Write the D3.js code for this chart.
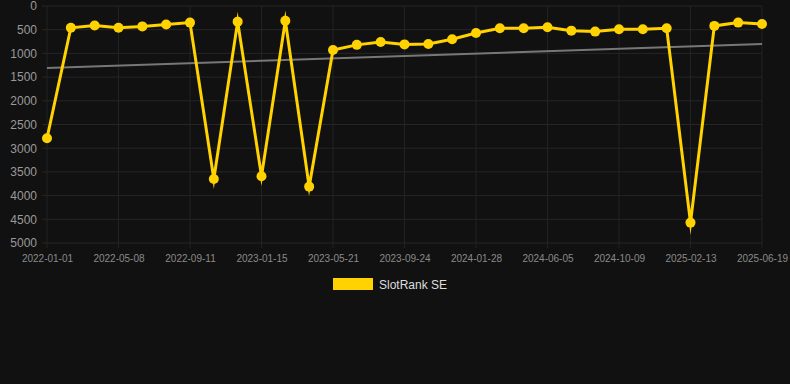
<!DOCTYPE html>
<html><head><meta charset="utf-8">
<script src="https://cdn.jsdelivr.net/npm/d3@7"></script>
<style>
html,body{margin:0;padding:0;background:#111111;}
svg{display:block;font-family:"Liberation Sans",Arial,sans-serif;}
</style></head>
<body>
<svg id="chart" width="790" height="384"></svg>
<script>
const dates = ["2022-01-01","2022-02-12","2022-03-26","2022-05-08","2022-06-19","2022-07-31","2022-09-11","2022-10-23","2022-12-04","2023-01-15","2023-02-26","2023-04-09","2023-05-21","2023-07-02","2023-08-13","2023-09-24","2023-11-05","2023-12-17","2024-01-28","2024-03-10","2024-04-22","2024-06-05","2024-07-17","2024-08-28","2024-10-09","2024-11-20","2025-01-01","2025-02-13","2025-03-27","2025-05-08","2025-06-19"];
const ranks = [2790,460,410,460,430,390,350,3650,330,3590,310,3810,930,820,760,810,800,700,570,470,470,450,520,540,490,490,470,4570,420,350,380];
const trend = [1310,800];
const yTicks = [0,500,1000,1500,2000,2500,3000,3500,4000,4500,5000];
const seriesName = "SlotRank SE";

const svg = d3.select("#chart");
const x = d3.scalePoint().domain(dates).range([47,762]);
const y = d3.scaleLinear().domain([0,5000]).range([6,243]);
const tickDates = dates.filter((d,i)=>i%3===0);

// grid
const g = svg.append("g");
g.selectAll("line.h").data(yTicks).join("line")
  .attr("x1",42).attr("x2",762).attr("y1",d=>y(d)).attr("y2",d=>y(d))
  .attr("stroke","#262626").attr("stroke-width",1);
g.selectAll("line.v").data(tickDates).join("line")
  .attr("x1",d=>x(d)).attr("x2",d=>x(d)).attr("y1",6).attr("y2",248)
  .attr("stroke","#222222").attr("stroke-width",1);

// y axis
const ya = svg.append("g").attr("transform","translate(37,0)")
  .call(d3.axisLeft(y).tickValues(yTicks).tickFormat(d3.format("d")).tickSize(0).tickPadding(0));
ya.select(".domain").remove();
ya.selectAll("text").attr("fill","#9a9a9a").style("font-size","12px");

// x axis
const xa = svg.append("g").attr("transform","translate(0,255)")
  .call(d3.axisBottom(x).tickValues(tickDates).tickSize(0).tickPadding(0));
xa.select(".domain").remove();
xa.selectAll("text").attr("fill","#8a8a8a").style("font-size","10px");

// trend line
svg.append("line")
  .attr("x1",x(dates[0])).attr("x2",x(dates[dates.length-1]))
  .attr("y1",y(trend[0])).attr("y2",y(trend[1]))
  .attr("stroke","#777777").attr("stroke-width",2);

// series line
const line = d3.line().x((d,i)=>x(dates[i])).y(d=>y(d));
svg.append("path").datum(ranks).attr("d",line)
  .attr("fill","none").attr("stroke","#FFD200").attr("stroke-width",3)
  .attr("stroke-linejoin","miter").attr("stroke-miterlimit",12);
svg.selectAll("circle.pt").data(ranks).join("circle")
  .attr("cx",(d,i)=>x(dates[i])).attr("cy",d=>y(d)).attr("r",5)
  .attr("fill","#FFD200");

// legend
svg.append("rect").attr("x",333).attr("y",278).attr("width",40).attr("height",12).attr("fill","#FFD200");
svg.append("text").attr("x",379).attr("y",288.5).text(seriesName)
  .attr("fill","#dddddd").style("font-size","12px");
</script>
</body></html>
